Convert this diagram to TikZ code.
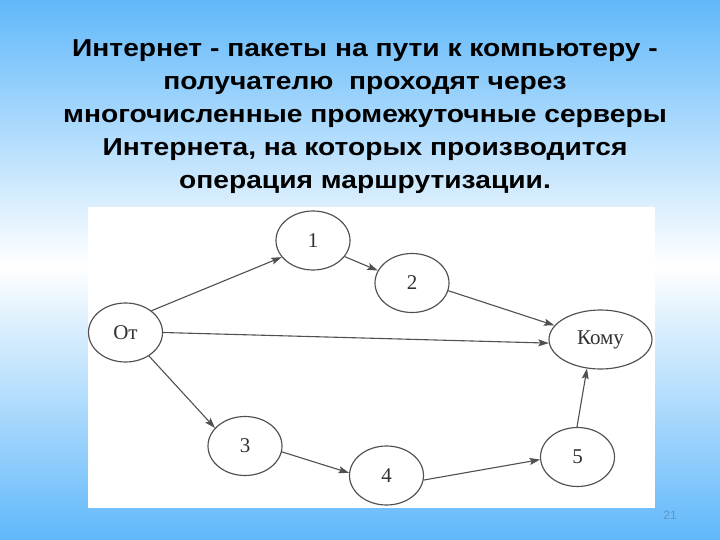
\documentclass[tikz,border=0pt]{standalone}
\usepackage{fontspec}
\usetikzlibrary{shapes.geometric,arrows.meta}
\newfontfamily\titlefont[FakeStretch=1.15]{Liberation Sans Bold}
\newfontfamily\pagefont{Liberation Sans}
\newfontfamily\nodefont{Liberation Serif}
\definecolor{bgblue}{RGB}{96,184,250}
\definecolor{edgegray}{RGB}{80,80,80}
\definecolor{txtgray}{RGB}{50,50,50}
\definecolor{numblue}{RGB}{95,150,200}
\tikzset{
  station/.style={ellipse, draw=edgegray, line width=1.15pt, fill=white, inner sep=0pt,
    minimum width=74pt, minimum height=59pt, font=\nodefont\fontsize{21}{23}\selectfont, text=txtgray},
  link/.style={draw=edgegray, line width=1.1pt, -{Stealth[length=10.5pt,width=7pt,inset=2pt]}},
  titleline/.style={anchor=base, inner sep=0pt, font=\titlefont\fontsize{24.5}{28}\selectfont}
}
\begin{document}
\begin{tikzpicture}[x=1pt,y=-1pt]
\useasboundingbox (0,0) rectangle (720,540);
\shade[top color=bgblue, bottom color=white] (0,0) rectangle (720,266);
\shade[top color=white, bottom color=bgblue] (0,265) rectangle (720,540);
\fill[white] (88,207) rectangle (655,508);
\node[titleline] (t1) at (365,57) {Интернет - пакеты на пути к компьютеру -};
\node[titleline] (t2) at (365,90) {получателю\ \ проходят через};
\node[titleline] (t3) at (365,123) {многочисленные промежуточные серверы};
\node[titleline] (t4) at (365,156) {Интернета, на которых производится};
\node[titleline] (t5) at (365,189) {операция маршрутизации.};
\node[anchor=base, inner sep=0pt, text=numblue, font=\pagefont\fontsize{12}{14}\selectfont] (pg) at (670,519) {21};
\node[station] (ot) at (125.5,332.5) {От};
\node[station] (n1) at (313,240.5) {1};
\node[station] (n2) at (412,283) {2};
\node[station, minimum width=103pt] (komu) at (600.5,339.5) {Кому};
\node[station] (n3) at (245,446) {3};
\node[station] (n4) at (386.5,475.5) {4};
\node[station] (n5) at (577.5,457) {5};
\draw[link] (ot.40) -- (n1.208);
\draw[link] (n1.-27) -- (n2.160);
\draw[link] (n2.-12.5) -- (komu.163.5);
\draw[link] (ot.0) -- (komu.184);
\draw[link] (ot.-45) -- (n3.149.6);
\draw[link] (n3.-9) -- (n4.176);
\draw[link] (n4.-7) -- (n5.184.6);
\draw[link] (n5.91) -- (komu.245);
\end{tikzpicture}
\end{document}
